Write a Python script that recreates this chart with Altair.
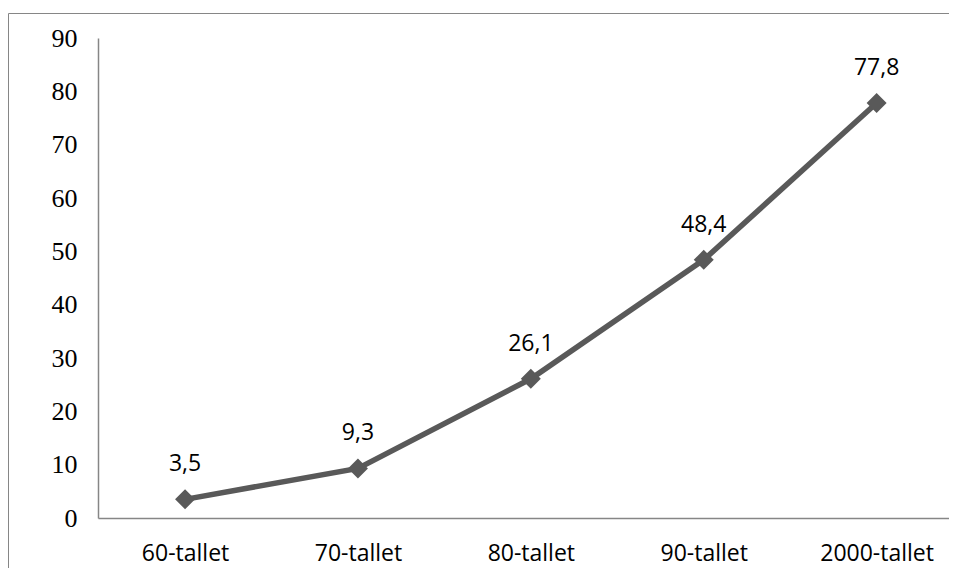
import altair as alt
import pandas as pd

categories = ["60-tallet", "70-tallet", "80-tallet", "90-tallet", "2000-tallet"]
values = [3.5, 9.3, 26.1, 48.4, 77.8]
value_labels = ["3,5", "9,3", "26,1", "48,4", "77,8"]
y_ticks = [0, 10, 20, 30, 40, 50, 60, 70, 80, 90]

df = pd.DataFrame({"period": categories, "value": values, "label": value_labels})

W, H = 851, 480
LINE = "#595959"
AXIS = "#868686"
SANS = "Open Sans"

x_enc = alt.X(
    "period:N",
    sort=categories,
    scale=alt.Scale(type="point", padding=0.461, align=0.546),
    axis=alt.Axis(
        title=None, labelAngle=0, labelFont=SANS, labelFontSize=23,
        labelColor="black", ticks=False, tickSize=0, labelPadding=24,
        domainColor=AXIS, domainWidth=1.5,
    ),
)
y_enc = alt.Y(
    "value:Q",
    scale=alt.Scale(domain=[0, 90], nice=False),
    axis=alt.Axis(
        title=None, values=y_ticks, grid=False, ticks=False, tickSize=0,
        labelPadding=21, labelFont="Liberation Serif", labelFontSize=26,
        labelColor="black", domainColor=AXIS, domainWidth=1.5,
    ),
)

base = alt.Chart(df)

line = base.mark_line(color=LINE, strokeWidth=5.5).encode(x=x_enc, y=y_enc)
points = base.mark_point(shape="diamond", size=400, filled=True, color=LINE, opacity=1).encode(x=x_enc, y=y_enc)
labels = base.mark_text(font=SANS, fontSize=23, color="black", baseline="alphabetic", dy=-28).encode(
    x=x_enc, y=y_enc, text="label:N"
)

frame = alt.Chart(pd.DataFrame({"k": [0]}))
border_top = frame.mark_rule(color=AXIS, strokeWidth=1).encode(
    x=alt.value(-89.5), x2=alt.value(W), y=alt.value(-24.5), y2=alt.value(-24.5)
)
border_left = frame.mark_rule(color=AXIS, strokeWidth=1).encode(
    x=alt.value(-89.5), x2=alt.value(-89.5), y=alt.value(-24.5), y2=alt.value(H + 50)
)

chart = (
    alt.layer(border_top, border_left, line, points, labels)
    .properties(
        width=W, height=H, autosize="none",
        padding={"left": 90, "top": 30, "right": 0, "bottom": 50},
        background="white",
    )
    .configure_view(stroke="transparent", strokeWidth=0)
)

chart.save("out.html", embed_options={"renderer": "svg", "actions": False})
